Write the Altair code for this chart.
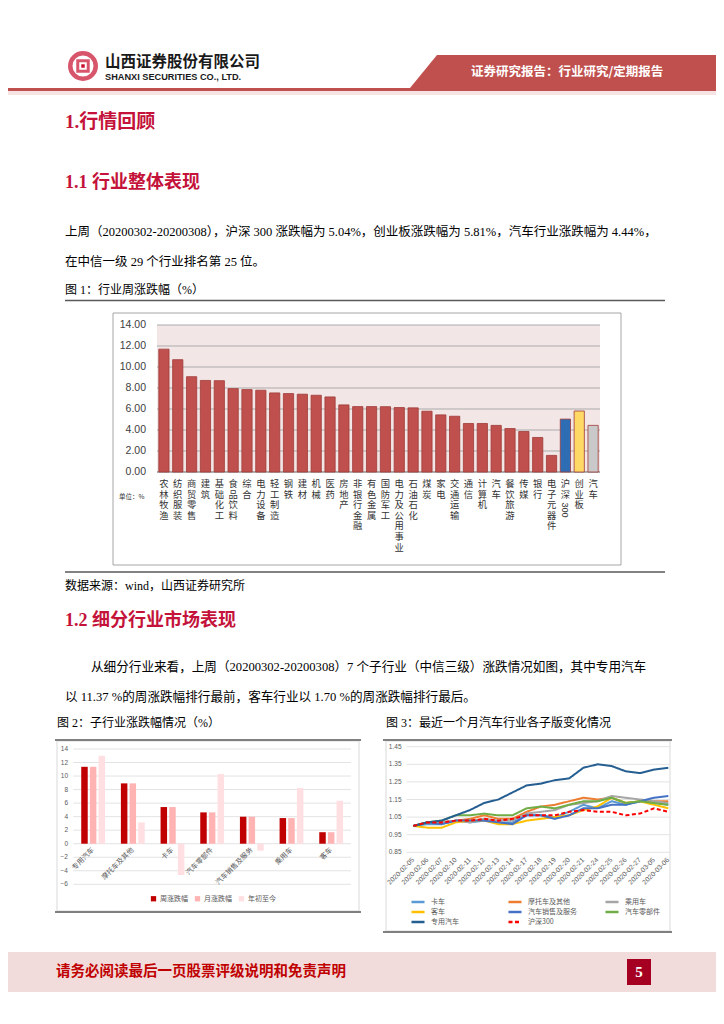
import altair as alt
import pandas as pd

# ---------------- data ----------------
industries = ["农林牧渔", "纺织服装", "商贸零售", "建筑", "基础化工", "食品饮料", "综合",
              "电力设备", "轻工制造", "钢铁", "建材", "机械", "医药", "房地产", "非银行金融",
              "有色金属", "国防军工", "电力及公用事业", "石油石化", "煤炭", "家电", "交通运输",
              "通信", "计算机", "汽车", "餐饮旅游", "传媒", "银行", "电子元器件"]
industry_returns = [11.70, 10.70, 9.08, 8.72, 8.70, 7.94, 7.85, 7.79, 7.53, 7.47, 7.41, 7.31,
                    7.15, 6.39, 6.23, 6.23, 6.22, 6.14, 6.11, 5.79, 5.44, 5.31, 4.62, 4.62,
                    4.44, 4.14, 3.86, 3.29, 1.58]
benchmarks = ["沪深300", "创业板", "汽车"]
benchmark_returns = [5.04, 5.81, 4.44]
fig1_ticks = [0, 2, 4, 6, 8, 10, 12, 14]

sub_industries = ["专用汽车", "摩托车及其他", "卡车", "汽车零部件", "汽车销售及服务", "乘用车", "客车"]
fig2_series = ["周涨跌幅", "月涨跌幅", "年初至今"]
week_returns = [11.37, 8.92, 5.42, 4.63, 3.99, 3.79, 1.70]
month_returns = [11.37, 8.92, 5.42, 4.63, 3.99, 3.79, 1.70]
ytd_returns = [13.00, 3.15, -4.63, 10.30, -1.03, 8.23, 6.35]
fig2_ticks = [-6, -4, -2, 0, 2, 4, 6, 8, 10, 12, 14]

dates = ["2020-02-05", "2020-02-06", "2020-02-07", "2020-02-10", "2020-02-11", "2020-02-12",
         "2020-02-13", "2020-02-14", "2020-02-17", "2020-02-18", "2020-02-19", "2020-02-20",
         "2020-02-21", "2020-02-24", "2020-02-25", "2020-02-26", "2020-02-27", "2020-03-05",
         "2020-03-06"]
truck = [1.00, 1.01, 1.01, 1.03, 1.02, 1.03, 1.02, 1.02, 1.06, 1.06, 1.05, 1.08, 1.12, 1.10,
         1.14, 1.12, 1.14, 1.13, 1.12]
motorcycle = [1.00, 1.02, 1.02, 1.03, 1.04, 1.06, 1.04, 1.04, 1.08, 1.11, 1.12, 1.14, 1.16,
              1.15, 1.16, 1.13, 1.14, 1.14, 1.14]
passenger = [1.00, 1.02, 1.02, 1.03, 1.02, 1.04, 1.03, 1.03, 1.07, 1.08, 1.09, 1.12, 1.13,
             1.14, 1.17, 1.16, 1.15, 1.14, 1.13]
bus = [1.00, 0.99, 0.99, 1.02, 1.03, 1.03, 1.01, 1.01, 1.03, 1.04, 1.05, 1.06, 1.09, 1.11,
       1.16, 1.13, 1.14, 1.12, 1.10]
sales_service = [1.00, 1.02, 1.01, 1.03, 1.03, 1.03, 1.02, 1.01, 1.06, 1.06, 1.04, 1.06, 1.10,
                 1.10, 1.12, 1.12, 1.14, 1.16, 1.17]
auto_parts = [1.00, 1.02, 1.03, 1.06, 1.06, 1.07, 1.06, 1.06, 1.10, 1.11, 1.10, 1.12, 1.14,
              1.14, 1.16, 1.13, 1.14, 1.13, 1.12]
special_vehicle = [1.00, 1.02, 1.03, 1.06, 1.09, 1.13, 1.15, 1.19, 1.23, 1.24, 1.26, 1.27, 1.33,
                   1.35, 1.34, 1.31, 1.30, 1.32, 1.33]
csi300 = [1.00, 1.02, 1.02, 1.03, 1.03, 1.04, 1.03, 1.04, 1.06, 1.06, 1.06, 1.08, 1.09, 1.08,
          1.08, 1.06, 1.07, 1.10, 1.08]
fig3_series = ["卡车", "摩托车及其他", "乘用车", "客车", "汽车销售及服务", "汽车零部件", "专用汽车", "沪深300"]
fig3_values = [truck, motorcycle, passenger, bus, sales_service, auto_parts, special_vehicle, csi300]
fig3_colors = ["#5B9BD5", "#ED7D31", "#A5A5A5", "#FFC000", "#4472C4", "#70AD47", "#255E91", "#FF0000"]
fig3_ticks = [0.85, 0.95, 1.05, 1.15, 1.25, 1.35, 1.45]

# ---------------- layout helpers ----------------
OX, OY = 8, 8


def X(v):
    return v - OX


def Y(v):
    return v - OY


SERIF = "Liberation Serif, Noto Sans CJK SC"
SANS = "Noto Sans CJK SC"
CHART = "Liberation Sans, Noto Sans CJK SC"
ONE = pd.DataFrame({"a": [0]})


def text(s, x, y, size=12.5, color="#000000", weight="normal", font=SERIF, align="left",
         baseline="middle"):
    return alt.Chart(pd.DataFrame({"t": [s]})).mark_text(
        fontSize=size, color=color, fontWeight=weight, font=font, align=align, baseline=baseline
    ).encode(x=alt.value(X(x)), y=alt.value(Y(y)), text="t:N")


def rule(x1, x2, y1, y2, color, w=1.0):
    return alt.Chart(ONE).mark_rule(color=color, strokeWidth=w).encode(
        x=alt.value(X(x1)), x2=alt.value(X(x2)), y=alt.value(Y(y1)), y2=alt.value(Y(y2)))


def box(x1, x2, y1, y2, fill="#ffffff", stroke="#ffffff", w=1.0):
    return alt.Chart(ONE).mark_rect(fill=fill, stroke=stroke, strokeWidth=w).encode(
        x=alt.value(X(x1)), x2=alt.value(X(x2)), y=alt.value(Y(y1)), y2=alt.value(Y(y2)))


RED_HEAD = "#C4123A"
decor = []

# header
banner = pd.DataFrame({"bx": [X(410), X(437), X(716)], "by": [Y(88), Y(55), Y(55)],
                       "by2": [Y(88), Y(88), Y(88)]})
decor.append(alt.Chart(banner).mark_area(color="#C0504D").encode(
    x=alt.X("bx:Q", scale=None), y=alt.Y("by:Q", scale=None), y2="by2:Q"))
decor.append(text("证券研究报告：行业研究/定期报告", 471, 72, size=12.5, color="#ffffff",
                  weight="bold", font=SANS))
decor.append(box(8, 716, 88, 91, fill="#C0504D", stroke="#C0504D", w=0))
decor.append(box(8, 716, 91, 95, fill="#F6E4E4", stroke="#F6E4E4", w=0))
decor.append(alt.Chart(ONE).mark_point(shape="circle", size=650, filled=False, color="#C8102E",
                                       strokeWidth=4.5).encode(x=alt.value(X(83)), y=alt.value(Y(66))))
decor.append(alt.Chart(ONE).mark_point(shape="square", size=110, filled=False, color="#C8102E",
                                       strokeWidth=3).encode(x=alt.value(X(83)), y=alt.value(Y(66))))
decor.append(alt.Chart(ONE).mark_point(shape="square", size=12, filled=True, color="#C8102E",
                                       opacity=1).encode(x=alt.value(X(83)), y=alt.value(Y(66))))
decor.append(text("山西证券股份有限公司", 105, 62, size=15.5, color="#1A1A1A", weight="bold", font=SANS))
decor.append(text("SHANXI SECURITIES CO., LTD.", 105, 77, size=9.2, color="#1A1A1A", weight="bold",
                  font="Liberation Sans"))

# headings & paragraphs
decor.append(text("1.行情回顾", 65, 122, size=19, color=RED_HEAD, weight="bold"))
decor.append(text("1.1 行业整体表现", 65, 183, size=18, color=RED_HEAD, weight="bold"))
decor.append(text("上周（20200302-20200308），沪深 300 涨跌幅为 5.04%，创业板涨跌幅为 5.81%，汽车行业涨跌幅为 4.44%，",
                  65, 232, size=12.5))
decor.append(text("在中信一级 29 个行业排名第 25 位。", 65, 262, size=12.5))
decor.append(text("图 1：行业周涨跌幅（%）", 65, 290, size=12))
decor.append(rule(65, 665, 300.5, 300.5, "#595959", 1.5))
decor.append(box(113, 621, 313, 565, fill="#ffffff", stroke="#A6A6A6", w=1))
decor.append(box(157, 600, 325, 472, fill="#F3E6E6", stroke="#F3E6E6", w=0))
decor.append(text("单位：%", 119, 497, size=6.5, color="#333333", font=SANS))
decor.append(rule(65, 665, 572, 572, "#595959", 1.5))
decor.append(text("数据来源：wind，山西证券研究所", 65, 586, size=12))
decor.append(text("1.2 细分行业市场表现", 65, 621, size=18, color=RED_HEAD, weight="bold"))
decor.append(text("从细分行业来看，上周（20200302-20200308）7 个子行业（中信三级）涨跌情况如图，其中专用汽车",
                  91, 667, size=12.6))
decor.append(text("以 11.37 %的周涨跌幅排行最前，客车行业以 1.70 %的周涨跌幅排行最后。", 65, 697, size=12.6))
decor.append(text("图 2：子行业涨跌幅情况（%）", 57, 723, size=12))
decor.append(text("图 3：最近一个月汽车行业各子版变化情况", 386, 723, size=12))

# figure frames
decor.append(box(57, 359, 741, 911, fill="#ffffff", stroke="#D9D9D9", w=1))
decor.append(rule(55, 361, 740, 740, "#808080", 2))
decor.append(rule(55, 361, 912, 912, "#808080", 2))
decor.append(box(386, 670, 741, 931, fill="#ffffff", stroke="#D9D9D9", w=1))
decor.append(rule(383, 672, 740, 740, "#808080", 2))
decor.append(rule(383, 672, 932, 932, "#808080", 2))

# footer
decor.append(box(8, 716, 952, 992, fill="#F2DCDB", stroke="#F2DCDB", w=0))
decor.append(text("请务必阅读最后一页股票评级说明和免责声明", 56, 972, size=14.5, color="#C00000",
                  weight="bold", font=SANS))
decor.append(box(627, 651, 959, 985, fill="#A50021", stroke="#A50021", w=0))
decor.append(text("5", 639, 972, size=15, color="#ffffff", weight="bold", font=SERIF, align="center"))

# ---------------- figure 1 ----------------
f1 = pd.DataFrame({
    "idx": list(range(len(industries) + len(benchmarks))),
    "name": industries + benchmarks,
    "ret": industry_returns + benchmark_returns,
    "grp": ["行业"] * len(industries) + benchmarks,
})
f1["num"] = f1["name"].map(lambda s: "".join(c for c in s if c.isdigit()))
# one row per character of the vertical category labels
char_rows = []
for i, name in zip(f1["idx"], f1["name"]):
    chars = [c for c in name if not c.isdigit()]
    for k, c in enumerate(chars):
        char_rows.append({"idx": i, "ch": c, "line": k})
f1c = pd.DataFrame(char_rows)
max_lines = int(f1c["line"].max()) + 1
t1 = pd.DataFrame({"tick": fig1_ticks, "lab": [f"{t:.2f}" for t in fig1_ticks]})

xs1 = alt.Scale(range=[X(157), X(600)], paddingInner=0.26, paddingOuter=0.13)
ys1 = alt.Scale(domain=[0, 14], range=[Y(472), Y(325)], nice=False, zero=False)

grid1 = alt.Chart(t1).mark_rule(color="#ABABAB", strokeWidth=1).encode(
    y=alt.Y("tick:Q", scale=ys1, axis=None), x=alt.value(X(157)), x2=alt.value(X(600)))
ylab1 = alt.Chart(t1).mark_text(align="right", baseline="middle", fontSize=10.5, font=CHART,
                                color="#404040").encode(
    y=alt.Y("tick:Q", scale=ys1, axis=None), x=alt.value(X(146)), text="lab:N")
base1 = alt.Chart(t1).transform_filter(alt.datum.tick == 0).mark_rule(
    color="#868686", strokeWidth=1).encode(
    y=alt.Y("tick:Q", scale=ys1, axis=None), x=alt.value(X(157)), x2=alt.value(X(600)))
bars1 = alt.Chart(f1).mark_bar(stroke="#9E3B38", strokeWidth=0.8).encode(
    x=alt.X("idx:O", scale=xs1, axis=None),
    y=alt.Y("ret:Q", scale=ys1, axis=None),
    color=alt.Color("grp:N", scale=alt.Scale(domain=["行业", "沪深300", "创业板", "汽车"],
                                             range=["#C0504D", "#2E6DB4", "#FFD966", "#C9C9C9"]),
                    legend=None))
clab_layers = []
for k in range(max_lines):
    clab_layers.append(
        alt.Chart(f1c).transform_filter(alt.datum.line == k).mark_text(
            baseline="middle", align="center", fontSize=9.3, font=CHART, color="#333333").encode(
            x=alt.X("idx:O", scale=xs1, axis=None), y=alt.value(Y(484 + k * 10.6)), text="ch:N"))
cnum1 = alt.Chart(f1).transform_filter(alt.datum.num != "").mark_text(
    baseline="middle", align="center", fontSize=9, angle=90, font=CHART, color="#333333").encode(
    x=alt.X("idx:O", scale=xs1, axis=None), y=alt.value(Y(510)), text="num:N")
fig1 = alt.layer(grid1, base1, bars1, ylab1, *clab_layers, cnum1)

# ---------------- figure 2 ----------------
rows2 = []
for s, vals in zip(fig2_series, [week_returns, month_returns, ytd_returns]):
    for c, v in zip(sub_industries, vals):
        rows2.append({"cat": c, "series": s, "val": v})
f2 = pd.DataFrame(rows2)
t2 = pd.DataFrame({"tick": fig2_ticks})

xs2 = alt.Scale(range=[X(73.3), X(351)], paddingInner=0.4, paddingOuter=0.2)
ys2 = alt.Scale(domain=[-6, 14], range=[Y(884.3), Y(749)], nice=False, zero=False)

grid2 = alt.Chart(t2).mark_rule(color="#E3E3E3", strokeWidth=1).encode(
    y=alt.Y("tick:Q", scale=ys2, axis=None), x=alt.value(X(73.3)), x2=alt.value(X(351)))
ylab2 = alt.Chart(t2).mark_text(align="right", baseline="middle", fontSize=6.5, font=CHART,
                                color="#595959").encode(
    y=alt.Y("tick:Q", scale=ys2, axis=None), x=alt.value(X(68)), text="tick:Q")
bars2 = alt.Chart(f2).mark_bar().encode(
    x=alt.X("cat:N", sort=sub_industries, scale=xs2, axis=None),
    xOffset=alt.XOffset("series:N", sort=fig2_series,
                        scale=alt.Scale(paddingInner=0.25, paddingOuter=0)),
    y=alt.Y("val:Q", scale=ys2, axis=None),
    color=alt.Color("series:N", sort=fig2_series,
                    scale=alt.Scale(domain=fig2_series, range=["#C00000", "#FFB3B3", "#FFDFE1"]),
                    legend=alt.Legend(orient="none", legendX=X(150), legendY=Y(895),
                                      direction="horizontal", title=None, symbolType="square",
                                      symbolSize=28, labelFontSize=7, labelFont=SANS,
                                      labelColor="#595959", columnPadding=6, labelOffset=3,
                                      symbolStrokeWidth=0)))
clab2 = alt.Chart(pd.DataFrame({"cat": sub_industries})).mark_text(
    align="right", baseline="middle", angle=315, fontSize=7, font=SANS, color="#595959").encode(
    x=alt.X("cat:N", sort=sub_industries, scale=xs2, axis=None), y=alt.value(Y(849)), text="cat:N")
fig2 = alt.layer(grid2, bars2, ylab2, clab2)

# ---------------- figure 3 ----------------
rows3 = []
for s, vals in zip(fig3_series, fig3_values):
    for d, v in zip(dates, vals):
        rows3.append({"date": d, "series": s, "val": v})
f3 = pd.DataFrame(rows3)
t3 = pd.DataFrame({"tick": fig3_ticks, "lab": [f"{t:.2f}" for t in fig3_ticks]})

# legend is laid out column by column, so order the domain to read row by row in 3 columns
n_rows = 3
legend_order = [fig3_series[r * 3 + c] for c in range(3) for r in range(n_rows)
                if r * 3 + c < len(fig3_series)]
legend_colors = [fig3_colors[fig3_series.index(s)] for s in legend_order]
legend_dashes = [[4, 2.5] if s == "沪深300" else [1, 0] for s in legend_order]

xs3 = alt.Scale(type="point", range=[X(413.3), X(668.3)], padding=0)
ys3 = alt.Scale(domain=[0.85, 1.45], range=[Y(852.3), Y(746.7)], nice=False, zero=False)
leg3 = alt.Legend(orient="none", legendX=X(410), legendY=Y(898), columns=3, gridAlign="all",
                  title=None, symbolType="stroke", symbolSize=170, symbolStrokeWidth=2.5,
                  labelFontSize=7, labelFont=SANS, labelColor="#595959", columnPadding=27,
                  rowPadding=2, labelOffset=5, clipHeight=8)

grid3 = alt.Chart(t3).mark_rule(color="#E3E3E3", strokeWidth=1).encode(
    y=alt.Y("tick:Q", scale=ys3, axis=None), x=alt.value(X(406.5)), x2=alt.value(X(670)))
ylab3 = alt.Chart(t3).mark_text(align="right", baseline="middle", fontSize=6.5, font=CHART,
                                color="#595959").encode(
    y=alt.Y("tick:Q", scale=ys3, axis=None), x=alt.value(X(401.5)), text="lab:N")
lines3 = alt.Chart(f3).mark_line(strokeWidth=2).encode(
    x=alt.X("date:O", sort=dates, scale=xs3, axis=None),
    y=alt.Y("val:Q", scale=ys3, axis=None),
    color=alt.Color("series:N", scale=alt.Scale(domain=legend_order, range=legend_colors),
                    legend=leg3),
    strokeDash=alt.StrokeDash("series:N", scale=alt.Scale(domain=legend_order, range=legend_dashes),
                              legend=leg3),
    order=alt.Order("date:O"))
dlab3 = alt.Chart(pd.DataFrame({"date": dates})).mark_text(
    align="right", baseline="middle", angle=315, fontSize=6.8, font=CHART, color="#595959").encode(
    x=alt.X("date:O", sort=dates, scale=xs3, axis=None), y=alt.value(Y(859)), text="date:N")
fig3 = alt.layer(grid3, lines3, ylab3, dlab3)

chart = alt.layer(*decor, fig1, fig2, fig3).resolve_scale(
    x="independent", y="independent", color="independent", strokeDash="independent"
).properties(width=708, height=1008, padding=0,
             autosize=alt.AutoSizeParams(type="none")).configure_view(stroke=None)

chart.save("out.html", embed_options={"renderer": "svg", "actions": False})
